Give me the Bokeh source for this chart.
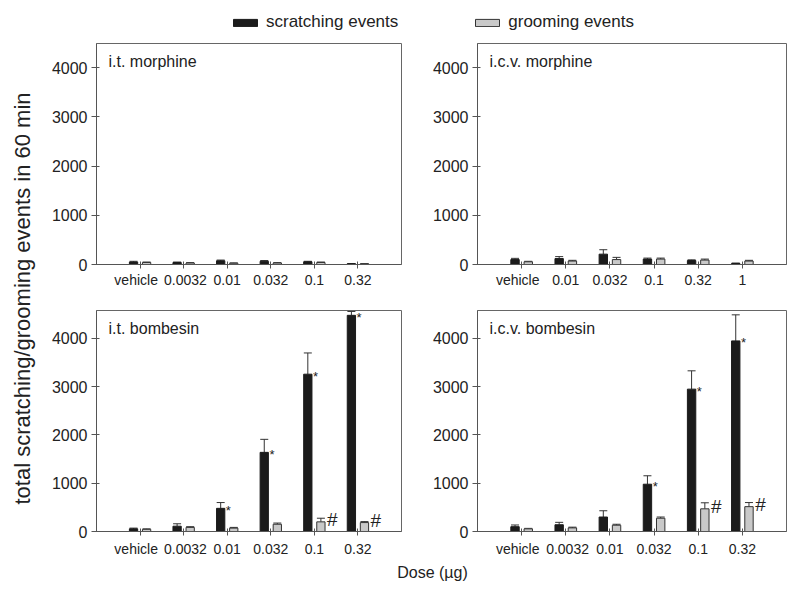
import math
from bokeh.plotting import figure
from bokeh.models import (Range1d, FixedTicker, ColumnDataSource, Whisker, TeeHead,
                          Label, Legend, LegendItem, LinearAxis)
from bokeh.layouts import row, column
from bokeh.embed import file_html
from bokeh.resources import INLINE
from bokeh.core.properties import value

# ---------------- data ----------------
it_morphine_doses = ["vehicle", "0.0032", "0.01", "0.032", "0.1", "0.32"]
it_morphine_scratch = [50, 40, 75, 65, 55, 15]
it_morphine_scratch_err = [15, 10, 15, 15, 10, 5]
it_morphine_groom = [40, 30, 25, 30, 40, 15]
it_morphine_groom_err = [10, 8, 8, 8, 10, 5]

icv_morphine_doses = ["vehicle", "0.01", "0.032", "0.1", "0.32", "1"]
icv_morphine_scratch = [100, 120, 210, 110, 80, 20]
icv_morphine_scratch_err = [25, 40, 90, 20, 15, 10]
icv_morphine_groom = [55, 70, 100, 110, 90, 70]
icv_morphine_groom_err = [10, 15, 45, 20, 20, 15]

it_bombesin_doses = ["vehicle", "0.0032", "0.01", "0.032", "0.1", "0.32"]
it_bombesin_scratch = [55, 110, 480, 1640, 3260, 4480]
it_bombesin_scratch_err = [15, 50, 120, 270, 440, 80]
it_bombesin_groom = [45, 85, 70, 150, 200, 185]
it_bombesin_groom_err = [10, 15, 15, 25, 75, 20]
it_bombesin_star = [False, False, True, True, True, True]
it_bombesin_hash = [False, False, False, False, True, True]

icv_bombesin_doses = ["vehicle", "0.0032", "0.01", "0.032", "0.1", "0.32"]
icv_bombesin_scratch = [100, 140, 300, 980, 2950, 3950]
icv_bombesin_scratch_err = [35, 50, 130, 175, 380, 540]
icv_bombesin_groom = [55, 75, 130, 275, 470, 515]
icv_bombesin_groom_err = [10, 15, 20, 25, 125, 85]
icv_bombesin_star = [False, False, False, True, True, True]
icv_bombesin_hash = [False, False, False, False, True, True]

y_ticks = [0, 1000, 2000, 3000, 4000]

# ---------------- style ----------------
FONT = "Liberation Sans"
TXT = "#222222"
BLACK = "#1b1b1b"
GREY = "#c9c9c9"
AX = "#555555"
OFF = 0.15
BW = 0.19
# small label nudges (in category units) to keep neighbouring labels apart
NUDGE = {"vehicle": -0.09, "0.0032": 0.04}


def panel(title, cats, s, se, g, ge, star, hsh, ymax, width, height,
          bl, br, bt, bb, standoff):
    p = figure(width=width, height=height, x_range=Range1d(-1, 6),
               y_range=Range1d(0, ymax), output_backend="svg",
               toolbar_location=None, min_border_left=bl, min_border_right=br,
               min_border_top=bt, min_border_bottom=bb)
    p.grid.visible = False
    p.outline_line_color = "#666666"
    p.background_fill_color = "white"

    idx = list(range(len(cats)))
    xs_s = [i - OFF for i in idx]
    xs_g = [i + OFF for i in idx]

    src_s = ColumnDataSource(dict(x=xs_s, top=s, up=[a + b for a, b in zip(s, se)]))
    src_g = ColumnDataSource(dict(x=xs_g, top=g, up=[a + b for a, b in zip(g, ge)]))

    p.vbar(x="x", top="top", width=BW, bottom=0, source=src_s,
           fill_color=BLACK, line_color=BLACK, line_width=1)
    p.vbar(x="x", top="top", width=BW, bottom=0, source=src_g,
           fill_color=GREY, line_color="#333333", line_width=1)

    for src in (src_s, src_g):
        w = Whisker(base="x", lower="top", upper="up", source=src,
                    line_color="#333333", line_width=1,
                    upper_head=TeeHead(size=8, line_color="#333333", line_width=1),
                    lower_head=None)
        p.add_layout(w)

    if star is not None:
        sx = [i - OFF + BW / 2 for i in idx if star[i]]
        sy = [s[i] for i in idx if star[i]]
        p.text(x=sx, y=sy, text=["*"] * len(sx), text_font=value(FONT),
               text_font_size="13px", text_color=TXT, text_align="left",
               text_baseline="alphabetic", x_offset=1, y_offset=2)
    if hsh is not None:
        hx = [i + OFF + BW / 2 for i in idx if hsh[i]]
        hy = [g[i] for i in idx if hsh[i]]
        p.text(x=hx, y=hy, text=["#"] * len(hx), text_font=value(FONT),
               text_font_size="19px", text_color=TXT, text_align="left",
               text_baseline="alphabetic", x_offset=2, y_offset=-2)

    p.add_layout(Label(x=-1, y=ymax, x_offset=12, y_offset=-18, text=title,
                       text_baseline="middle", text_font=FONT,
                       text_font_size="16px", text_color=TXT))

    # tick marks at the category centres (no labels)
    p.xaxis.ticker = FixedTicker(ticks=idx)
    p.xaxis.major_label_overrides = {i: "" for i in idx}
    p.xaxis.major_label_text_font_size = "0px"
    p.xaxis.major_label_standoff = 0
    p.xaxis.major_tick_in = 3
    p.xaxis.major_tick_out = 4
    p.xaxis.axis_line_color = AX
    p.xaxis.major_tick_line_color = AX
    p.xaxis.minor_tick_line_color = None

    # label axis (dose labels)
    lab_pos = [i + NUDGE.get(c, 0.0) for i, c in zip(idx, cats)]
    lab_axis = LinearAxis(ticker=FixedTicker(ticks=lab_pos),
                          major_label_overrides={v: c for v, c in zip(lab_pos, cats)},
                          axis_line_color=None, major_tick_line_color=None,
                          minor_tick_line_color=None, major_tick_in=0,
                          major_tick_out=0, major_label_standoff=standoff,
                          major_label_text_font=FONT,
                          major_label_text_font_size="14px",
                          major_label_text_color=TXT)
    p.add_layout(lab_axis, "below")

    p.yaxis.ticker = FixedTicker(ticks=y_ticks)
    p.yaxis.axis_line_color = AX
    p.yaxis.major_tick_line_color = AX
    p.yaxis.minor_tick_line_color = None
    p.yaxis.major_label_text_font = FONT
    p.yaxis.major_label_text_color = TXT
    p.yaxis.major_tick_in = 3
    p.yaxis.major_tick_out = 5
    p.yaxis.major_label_standoff = 4
    p.yaxis.major_label_text_font_size = "16px"
    return p


tl = panel("i.t. morphine", it_morphine_doses, it_morphine_scratch,
           it_morphine_scratch_err, it_morphine_groom, it_morphine_groom_err,
           None, None, 4490, 379, 252, 46, 26, 5, 26, 3)
tr = panel("i.c.v. morphine", icv_morphine_doses, icv_morphine_scratch,
           icv_morphine_scratch_err, icv_morphine_groom, icv_morphine_groom_err,
           None, None, 4490, 369, 252, 50, 10, 5, 26, 3)
bl = panel("i.t. bombesin", it_bombesin_doses, it_bombesin_scratch,
           it_bombesin_scratch_err, it_bombesin_groom, it_bombesin_groom_err,
           it_bombesin_star, it_bombesin_hash, 4580, 379, 269, 46, 26, 20, 28, 5)
br = panel("i.c.v. bombesin", icv_bombesin_doses, icv_bombesin_scratch,
           icv_bombesin_scratch_err, icv_bombesin_groom, icv_bombesin_groom_err,
           icv_bombesin_star, icv_bombesin_hash, 4580, 369, 269, 50, 10, 20, 28, 5)


def blank(w, h):
    f = figure(width=w, height=h, x_range=Range1d(0, w), y_range=Range1d(0, h),
               output_backend="svg", toolbar_location=None,
               x_axis_location=None, y_axis_location=None, min_border=0)
    f.grid.visible = False
    f.outline_line_color = None
    return f


# legend strip
lg = blank(796, 38)
r1 = lg.vbar(x=[-50], top=[-50], width=1, fill_color=BLACK, line_color=BLACK)
r2 = lg.vbar(x=[-50], top=[-50], width=1, fill_color=GREY, line_color="#333333")
leg = Legend(items=[LegendItem(label="scratching events", renderers=[r1]),
                    LegendItem(label="grooming events", renderers=[r2])],
             orientation="horizontal", location=(230, 6), glyph_width=30,
             glyph_height=9, label_standoff=6, spacing=74, padding=0, margin=0,
             border_line_alpha=0, background_fill_alpha=0,
             label_text_font=FONT, label_text_font_size="17px",
             label_text_color=TXT)
lg.add_layout(leg)

# y-axis title strip
yl = blank(48, 521)
yl.add_layout(Label(x=22, y=261, angle=math.pi / 2,
                    text="total scratching/grooming events in 60 min",
                    text_align="center", text_baseline="middle",
                    text_font=FONT, text_font_size="22px", text_color=TXT))

# x-axis title strip
xl = blank(796, 30)
xl.add_layout(Label(x=432, y=17, text="Dose (µg)", text_align="center",
                    text_baseline="middle", text_font=FONT,
                    text_font_size="16px", text_color=TXT))

layout = column(lg, row(yl, column(row(tl, tr), row(bl, br))), xl)

open("out.html", "w").write(file_html(layout, INLINE))
